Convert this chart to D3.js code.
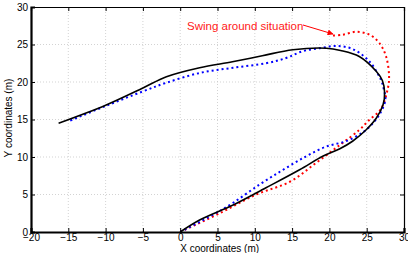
<!DOCTYPE html>
<html>
<head>
<meta charset="utf-8">
<script src="https://cdn.jsdelivr.net/npm/d3@7/dist/d3.min.js"></script>
<style>
  body { margin: 0; background: #fff; }
  svg text { font-family: "Liberation Sans", Arial, sans-serif; }
  .grid line { stroke: #c8c8c8; stroke-dasharray: 1,2; stroke-width: 0.8; }
</style>
</head>
<body>
<div id="viz"></div>
<script>
(function () {
  // measured path (solid black)
  var blackX = [0, 2.6, 7.1, 11.5, 16.0, 19.1, 21.4, 23.1, 24.9, 26.3, 27.2, 27.4, 27.1, 26.3, 24.0, 21.5, 19.6, 15.1, 11.0, 7.0, 2.6, -1.85, -5, -10, -16.3];
  var blackY = [0, 1.6, 3.6, 5.9, 8.3, 10.1, 11.1, 12.1, 13.6, 15.2, 17.0, 18.6, 20.2, 21.4, 23.4, 24.2, 24.5, 24.3, 23.5, 22.7, 21.9, 20.7, 19.2, 16.9, 14.5];

  // blue dotted estimate
  var blueX = [0, 4.4, 7.1, 10.6, 13.8, 16.9, 19.6, 22.2, 24.5, 26.0, 26.9, 27.5, 27.3, 26.9, 25.4, 23.1, 20.9, 18.7, 16.4, 14.2, 11.5, 7.1, 2.6, -1.85, -5.0, -10, -15];
  var blueY = [0, 2.3, 3.9, 6.3, 8.3, 10.1, 11.4, 12.1, 13.3, 14.7, 16.0, 17.6, 19.0, 20.3, 22.7, 24.4, 24.8, 24.5, 24.1, 23.2, 22.5, 21.9, 21.2, 19.9, 18.75, 16.8, 14.75];

  // red dotted (swing around)
  var redX = [0, 5.3, 10.2, 14.7, 18.2, 21.4, 24.0, 25.3, 26.9, 27.8, 28.0, 27.6, 26.7, 25.4, 23.6, 21.8, 20.3];
  var redY = [0, 2.5, 5.0, 6.7, 9.2, 11.6, 13.6, 14.9, 16.4, 19.0, 20.7, 23.4, 25.2, 26.3, 26.7, 26.3, 26.2];

  var xTicks = [-20, -15, -10, -5, 0, 5, 10, 15, 20, 25, 30];
  var yTicks = [0, 5, 10, 15, 20, 25, 30];

  var width = 408, height = 253;
  var margin = {left: 31, right: 4, top: 7, bottom: 21};

  var svg = d3.select("#viz").append("svg")
    .attr("width", width)
    .attr("height", height);

  var x = d3.scaleLinear().domain([-20, 30]).range([margin.left, width - margin.right]);
  var y = d3.scaleLinear().domain([0, 30]).range([height - margin.bottom, margin.top]);

  // grid
  var grid = svg.append("g").attr("class", "grid");
  grid.selectAll(".gx").data(xTicks.slice(1, -1)).enter().append("line")
    .attr("x1", function(d){ return x(d); }).attr("x2", function(d){ return x(d); })
    .attr("y1", y(0)).attr("y2", y(30));
  grid.selectAll(".gy").data(yTicks.slice(1, -1)).enter().append("line")
    .attr("x1", x(-20)).attr("x2", x(30))
    .attr("y1", function(d){ return y(d); }).attr("y2", function(d){ return y(d); });

  function zip(xs, ys){ return xs.map(function(v, i){ return [v, ys[i]]; }); }

  var line = d3.line()
    .x(function(d){ return x(d[0]); })
    .y(function(d){ return y(d[1]); })
    .curve(d3.curveCatmullRom.alpha(0.5));

  svg.append("path").datum(zip(redX, redY))
    .attr("d", line).attr("fill", "none")
    .attr("stroke", "#ff0000").attr("stroke-width", 2)
    .attr("stroke-dasharray", "2,3");

  svg.append("path").datum(zip(blueX, blueY))
    .attr("d", line).attr("fill", "none")
    .attr("stroke", "#0000ff").attr("stroke-width", 2)
    .attr("stroke-dasharray", "2,3");

  svg.append("path").datum(zip(blackX, blackY))
    .attr("d", line).attr("fill", "none")
    .attr("stroke", "#000").attr("stroke-width", 1.6);

  // axes (ticks inward, matlab style)
  var xAxis = svg.append("g").attr("transform", "translate(0," + y(0) + ")")
    .call(d3.axisBottom(x).tickValues(xTicks).tickSize(-4).tickPadding(2).tickFormat(function(d){ return d < 0 ? "\u2212" + (-d) : d; }));
  var xTop = svg.append("g").attr("transform", "translate(0," + y(30) + ")")
    .call(d3.axisTop(x).tickValues(xTicks).tickSize(-4).tickFormat(""));
  var yAxis = svg.append("g").attr("transform", "translate(" + x(-20) + ",0)")
    .call(d3.axisLeft(y).tickValues(yTicks).tickSize(-4).tickPadding(3));
  var yRight = svg.append("g").attr("transform", "translate(" + x(30) + ",0)")
    .call(d3.axisRight(y).tickValues(yTicks).tickSize(-4).tickFormat(""));

  [xAxis, xTop, yAxis, yRight].forEach(function(a){
    a.select(".domain").attr("stroke", "#000").attr("stroke-width", 1.2);
    a.selectAll(".tick line").attr("stroke", "#000");
    a.selectAll("text").attr("font-size", 10).attr("fill", "#000")
      .attr("font-family", "Liberation Sans, Arial, sans-serif");
  });
  xAxis.select(".domain").attr("stroke-width", 2.2);
  yAxis.select(".domain").attr("stroke-width", 2.2);

  // labels
  svg.append("text")
    .attr("x", x(0)).attr("y", 252)
    .attr("font-size", 10).text("X coordinates (m)");

  svg.append("text")
    .attr("transform", "translate(12," + 118 + ") rotate(-90)")
    .attr("text-anchor", "middle")
    .attr("font-size", 10).text("Y coordinates (m)");

  // annotation
  svg.append("defs").append("marker")
    .attr("id", "arr").attr("viewBox", "0 0 10 10")
    .attr("refX", 9).attr("refY", 5)
    .attr("markerWidth", 6).attr("markerHeight", 6)
    .attr("orient", "auto")
    .append("path").attr("d", "M0,0L10,5L0,10z").attr("fill", "#ff0000");

  svg.append("text")
    .attr("x", 187).attr("y", 30)
    .attr("font-size", 11.5).attr("fill", "#ff2020")
    .text("Swing around situation");

  svg.append("line")
    .attr("x1", 303).attr("y1", 25)
    .attr("x2", 333).attr("y2", 34)
    .attr("stroke", "#ff0000").attr("stroke-width", 1)
    .attr("marker-end", "url(#arr)");
})();
</script>
</body>
</html>
